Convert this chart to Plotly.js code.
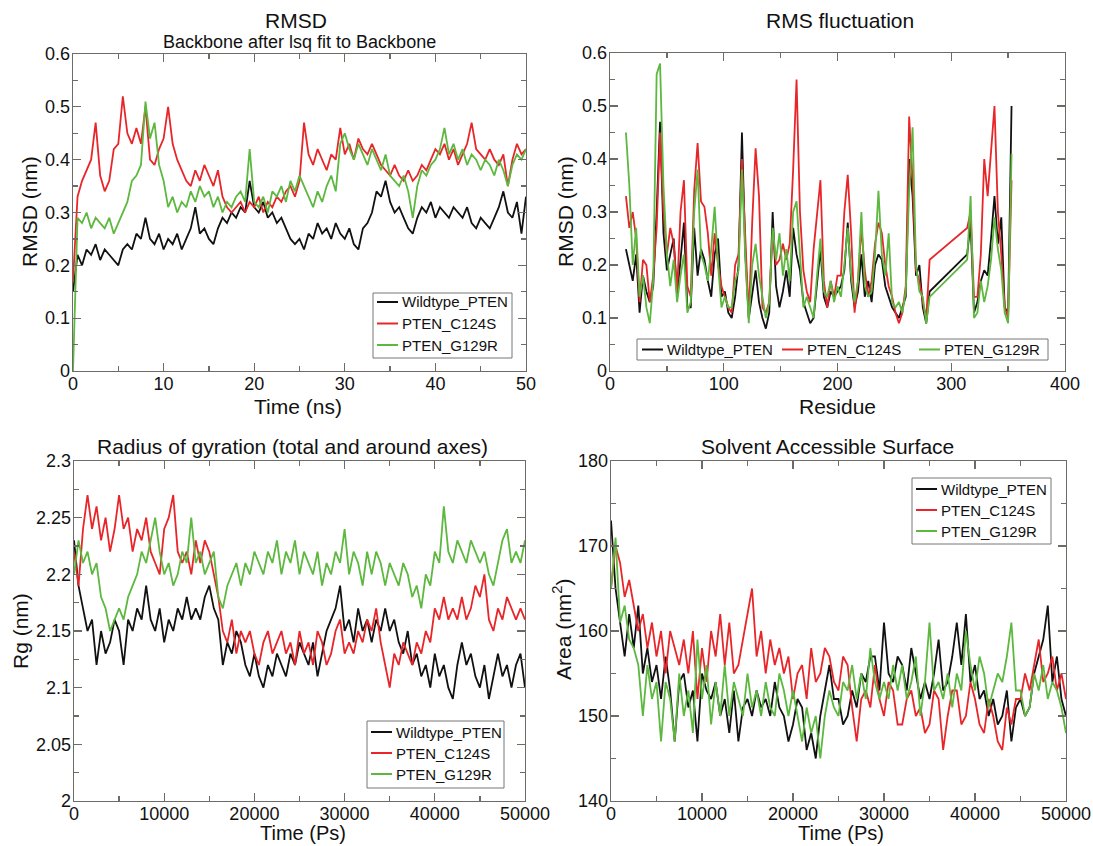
<!DOCTYPE html>
<html>
<head>
<meta charset="utf-8">
<script src="https://cdn.plot.ly/plotly-3.0.1.min.js"></script>
<style>html,body{margin:0;padding:0;background:#fff;}#chart{width:1093px;height:846px;}</style>
</head>
<body>
<div id="chart"></div>
<script>
// ---------------- DATA ----------------
const seriesNames = ["Wildtype_PTEN", "PTEN_C124S", "PTEN_G129R"];

// sampling times (ps)
const timePs = [0,500,1000,1500,2000,2500,3000,3500,4000,4500,
 5000,5500,6000,6500,7000,7500,8000,8500,9000,9500,
 10000,10500,11000,11500,12000,12500,13000,13500,14000,14500,
 15000,15500,16000,16500,17000,17500,18000,18500,19000,19500,
 20000,20500,21000,21500,22000,22500,23000,23500,24000,24500,
 25000,25500,26000,26500,27000,27500,28000,28500,29000,29500,
 30000,30500,31000,31500,32000,32500,33000,33500,34000,34500,
 35000,35500,36000,36500,37000,37500,38000,38500,39000,39500,
 40000,40500,41000,41500,42000,42500,43000,43500,44000,44500,
 45000,45500,46000,46500,47000,47500,48000,48500,49000,49500,
 50000];
const timeNs = timePs.map(t => t / 1000);

// Panel 1: backbone RMSD (nm)
const rmsdWT = [0.15,0.22,0.20,0.23,0.22,0.24,0.21,0.23,0.22,0.21,
 0.20,0.23,0.24,0.23,0.26,0.25,0.29,0.25,0.24,0.26,
 0.23,0.25,0.24,0.26,0.23,0.25,0.27,0.31,0.26,0.27,
 0.25,0.24,0.27,0.29,0.28,0.30,0.29,0.31,0.30,0.36,
 0.31,0.30,0.32,0.29,0.30,0.28,0.29,0.27,0.25,0.24,
 0.25,0.23,0.26,0.25,0.28,0.26,0.27,0.25,0.28,0.26,
 0.25,0.27,0.24,0.23,0.27,0.28,0.30,0.34,0.33,0.36,
 0.32,0.30,0.31,0.29,0.27,0.26,0.29,0.31,0.30,0.32,
 0.29,0.31,0.30,0.29,0.31,0.30,0.29,0.31,0.28,0.27,
 0.29,0.28,0.27,0.29,0.31,0.34,0.30,0.29,0.32,0.26,
 0.33];
const rmsdC124S = [0.17,0.33,0.36,0.38,0.40,0.47,0.37,0.34,0.36,0.42,
 0.43,0.52,0.45,0.43,0.46,0.43,0.50,0.40,0.39,0.42,
 0.44,0.50,0.43,0.40,0.38,0.36,0.35,0.38,0.36,0.39,
 0.37,0.35,0.38,0.33,0.31,0.30,0.31,0.32,0.30,0.32,
 0.31,0.33,0.30,0.32,0.31,0.33,0.32,0.34,0.35,0.33,
 0.36,0.47,0.41,0.39,0.42,0.40,0.38,0.41,0.40,0.46,
 0.41,0.43,0.40,0.44,0.42,0.41,0.43,0.41,0.39,0.38,
 0.37,0.39,0.37,0.36,0.38,0.36,0.37,0.39,0.38,0.40,
 0.42,0.41,0.43,0.40,0.42,0.39,0.41,0.43,0.47,0.42,
 0.41,0.40,0.42,0.40,0.39,0.41,0.35,0.40,0.43,0.41,
 0.42];
const rmsdG129R = [0.00,0.29,0.28,0.30,0.27,0.29,0.28,0.27,0.29,0.26,
 0.28,0.30,0.32,0.36,0.37,0.39,0.51,0.44,0.47,0.39,
 0.36,0.31,0.33,0.30,0.32,0.31,0.34,0.32,0.35,0.33,
 0.34,0.31,0.33,0.30,0.32,0.31,0.33,0.34,0.32,0.42,
 0.32,0.31,0.33,0.30,0.34,0.33,0.35,0.32,0.36,0.34,
 0.37,0.35,0.33,0.31,0.34,0.32,0.35,0.37,0.34,0.43,
 0.45,0.42,0.40,0.43,0.41,0.39,0.42,0.40,0.38,0.41,
 0.37,0.36,0.35,0.37,0.34,0.29,0.35,0.38,0.37,0.39,
 0.40,0.42,0.46,0.41,0.43,0.40,0.42,0.39,0.41,0.40,
 0.38,0.40,0.39,0.37,0.40,0.38,0.35,0.39,0.41,0.40,
 0.42];

// Panel 2: RMS fluctuation per residue (nm)
const residues = [14,17,20,23,26,29,32,35,38,41,
 44,47,50,53,56,59,62,65,68,71,
 74,77,80,83,86,89,92,95,98,101,
 104,107,110,113,116,119,122,125,128,131,
 134,137,140,143,146,149,152,155,158,161,
 164,167,170,173,176,179,182,185,188,191,
 194,197,200,203,206,209,212,215,218,221,
 224,227,230,233,236,239,242,245,248,251,
 254,257,260,263,266,269,272,275,278,281,
 314,317,320,323,326,329,332,335,338,341,
 344,347,350,353];
const rmsfWT = [0.23,0.20,0.17,0.22,0.11,0.18,0.15,0.13,0.16,0.30,
 0.47,0.26,0.19,0.22,0.25,0.14,0.21,0.28,0.12,0.12,
 0.27,0.18,0.23,0.21,0.17,0.14,0.22,0.25,0.14,0.15,
 0.11,0.10,0.14,0.20,0.45,0.22,0.10,0.15,0.19,0.13,
 0.10,0.08,0.11,0.30,0.16,0.12,0.15,0.19,0.14,0.27,
 0.22,0.19,0.13,0.11,0.09,0.10,0.17,0.23,0.14,0.12,
 0.15,0.14,0.15,0.16,0.19,0.28,0.17,0.12,0.15,0.22,
 0.14,0.17,0.13,0.20,0.22,0.21,0.16,0.14,0.12,0.11,
 0.10,0.12,0.14,0.40,0.33,0.18,0.20,0.12,0.09,0.15,
 0.22,0.28,0.11,0.13,0.17,0.19,0.18,0.25,0.33,0.24,
 0.29,0.12,0.11,0.50];
const rmsfC124S = [0.33,0.27,0.30,0.25,0.13,0.21,0.20,0.13,0.18,0.27,
 0.45,0.30,0.22,0.27,0.24,0.15,0.30,0.36,0.16,0.14,
 0.34,0.43,0.32,0.31,0.26,0.18,0.26,0.20,0.16,0.14,
 0.12,0.11,0.20,0.22,0.40,0.25,0.10,0.28,0.42,0.33,
 0.12,0.11,0.13,0.26,0.20,0.21,0.24,0.21,0.24,0.38,
 0.55,0.30,0.19,0.15,0.13,0.23,0.30,0.36,0.17,0.12,
 0.17,0.14,0.18,0.18,0.30,0.37,0.26,0.11,0.17,0.27,
 0.19,0.14,0.17,0.24,0.28,0.26,0.20,0.16,0.14,0.11,
 0.09,0.11,0.16,0.48,0.36,0.19,0.17,0.13,0.10,0.21,
 0.27,0.30,0.14,0.14,0.22,0.40,0.33,0.41,0.50,0.30,
 0.22,0.12,0.10,0.36];
const rmsfG129R = [0.45,0.35,0.20,0.27,0.14,0.18,0.12,0.09,0.17,0.56,
 0.58,0.35,0.22,0.16,0.21,0.13,0.18,0.22,0.11,0.13,
 0.30,0.38,0.22,0.20,0.17,0.23,0.31,0.20,0.12,0.14,
 0.12,0.12,0.17,0.19,0.38,0.21,0.09,0.20,0.24,0.18,
 0.14,0.10,0.13,0.27,0.21,0.26,0.18,0.23,0.17,0.30,
 0.32,0.21,0.12,0.14,0.12,0.10,0.18,0.25,0.15,0.14,
 0.17,0.13,0.16,0.14,0.20,0.27,0.18,0.13,0.17,0.30,
 0.16,0.14,0.15,0.22,0.34,0.22,0.18,0.26,0.13,0.12,
 0.13,0.11,0.15,0.34,0.46,0.20,0.15,0.14,0.09,0.14,
 0.21,0.33,0.10,0.11,0.17,0.13,0.16,0.21,0.29,0.23,
 0.19,0.11,0.09,0.41];

// Panel 3: radius of gyration (nm)
const rgWT = [2.23,2.19,2.17,2.15,2.16,2.12,2.15,2.13,2.14,2.16,
 2.15,2.12,2.16,2.15,2.17,2.16,2.19,2.16,2.15,2.17,
 2.14,2.16,2.15,2.17,2.16,2.18,2.16,2.17,2.16,2.18,
 2.19,2.17,2.16,2.12,2.14,2.13,2.15,2.14,2.12,2.11,
 2.13,2.11,2.10,2.12,2.11,2.13,2.12,2.11,2.13,2.12,
 2.14,2.13,2.12,2.14,2.11,2.13,2.15,2.16,2.17,2.19,
 2.15,2.16,2.14,2.17,2.15,2.16,2.14,2.16,2.15,2.17,
 2.15,2.16,2.14,2.13,2.15,2.12,2.13,2.11,2.12,2.10,
 2.13,2.11,2.12,2.10,2.09,2.12,2.14,2.12,2.13,2.11,
 2.10,2.12,2.09,2.11,2.13,2.11,2.12,2.10,2.12,2.13,
 2.10];
const rgC124S = [2.22,2.19,2.24,2.27,2.24,2.26,2.23,2.25,2.22,2.24,
 2.27,2.24,2.25,2.22,2.24,2.23,2.25,2.22,2.21,2.20,
 2.24,2.25,2.27,2.22,2.21,2.22,2.20,2.23,2.21,2.23,
 2.22,2.20,2.18,2.15,2.14,2.16,2.13,2.15,2.14,2.15,
 2.13,2.12,2.14,2.15,2.13,2.14,2.15,2.13,2.14,2.12,
 2.15,2.13,2.14,2.12,2.15,2.14,2.12,2.13,2.15,2.16,
 2.13,2.14,2.13,2.15,2.14,2.16,2.15,2.17,2.14,2.12,
 2.10,2.13,2.12,2.14,2.13,2.12,2.14,2.13,2.15,2.14,
 2.17,2.16,2.18,2.16,2.17,2.16,2.18,2.16,2.17,2.19,
 2.18,2.20,2.16,2.15,2.17,2.16,2.18,2.17,2.16,2.17,
 2.16];
const rgG129R = [2.20,2.23,2.21,2.22,2.20,2.21,2.18,2.17,2.15,2.16,
 2.17,2.16,2.18,2.19,2.20,2.22,2.21,2.23,2.25,2.22,
 2.20,2.21,2.19,2.20,2.22,2.21,2.25,2.21,2.22,2.20,
 2.21,2.22,2.18,2.17,2.19,2.20,2.21,2.19,2.21,2.20,
 2.22,2.21,2.20,2.22,2.21,2.23,2.20,2.22,2.21,2.23,
 2.20,2.22,2.21,2.20,2.22,2.19,2.21,2.20,2.22,2.21,
 2.24,2.20,2.22,2.21,2.19,2.22,2.20,2.22,2.21,2.19,
 2.21,2.20,2.19,2.21,2.20,2.18,2.19,2.17,2.20,2.19,
 2.22,2.21,2.26,2.22,2.21,2.23,2.22,2.21,2.23,2.22,
 2.21,2.22,2.20,2.19,2.21,2.23,2.24,2.21,2.22,2.21,
 2.23];

// Panel 4: solvent accessible surface area (nm^2)
const sasaWT = [173,165,161,157,162,158,163,155,158,154,
 156,152,157,153,147,154,155,151,153,147,
 155,153,152,154,150,152,148,153,147,151,
 152,150,153,151,152,150,154,151,150,147,
 149,152,151,146,148,145,150,153,156,152,
 152,149,150,153,151,155,154,157,157,153,
 161,155,154,157,156,153,158,155,152,154,
 152,155,159,153,154,157,161,156,162,154,
 156,152,153,150,152,149,150,153,147,151,
 152,150,151,155,157,159,163,154,157,152,
 150];
const sasaC124S = [165,170,168,164,166,163,160,162,158,161,
 157,160,155,160,158,156,159,155,160,152,
 158,154,160,157,162,156,161,155,156,159,
 162,165,157,160,155,159,156,158,155,157,
 152,155,156,152,158,154,155,158,157,154,
 153,157,156,151,147,152,153,151,156,152,
 150,154,153,149,149,152,153,150,151,148,
 149,153,152,146,150,153,153,149,150,154,
 152,149,148,152,150,147,146,151,149,152,
 152,155,153,156,159,154,155,157,153,155,
 152];
const sasaG129R = [165,171,161,163,159,158,156,150,156,152,
 154,147,154,152,147,155,150,153,148,159,
 152,156,149,154,150,156,150,154,152,150,
 155,151,153,150,154,151,150,155,153,150,
 153,150,147,151,148,150,145,150,153,151,
 150,154,153,156,152,155,152,158,154,152,
 154,152,156,153,156,152,154,157,150,154,
 161,153,154,152,155,151,155,153,160,156,
 153,157,155,151,153,155,154,157,161,153,
 153,150,151,155,153,156,152,154,153,151,
 148];

// ---------------- STYLE ----------------
const FONT = "Liberation Sans, Arial, Helvetica, sans-serif";
const COLORS = ["#111111", "#e8262a", "#5cb83e"];
const AXC = "#6e6a66";
const W = 1093, H = 846;
const px = v => v / W;
const py = v => 1 - v / H;

function makeAxis(d0, d1, range, dtick, minorDtick, anchor, isX, fmt) {
  const a = {
    domain: [d0, d1], range: range, tick0: range[0], dtick: dtick,
    anchor: anchor, showline: true, linecolor: AXC, linewidth: 1.3,
    mirror: "ticks", ticks: "inside", ticklen: 8, tickwidth: 1.3, tickcolor: AXC,
    minor: {ticks: "inside", ticklen: 5, dtick: minorDtick, tickwidth: 1.3, tickcolor: AXC, showgrid: false},
    showgrid: false, zeroline: false, fixedrange: true,
    exponentformat: "none", separatethousands: false,
    ticklabeloverflow: "allow",
    ticklabelstandoff: isX ? -4 : -2,
    tickfont: {family: FONT, size: 18, color: "#111"}
  };
  if (fmt) a.tickformat = fmt;
  return a;
}

const panels = [
  {x: timeNs, ys: [rmsdWT, rmsdC124S, rmsdG129R], xa: "x", ya: "y"},
  {x: residues, ys: [rmsfWT, rmsfC124S, rmsfG129R], xa: "x2", ya: "y2"},
  {x: timePs, ys: [rgWT, rgC124S, rgG129R], xa: "x3", ya: "y3"},
  {x: timePs, ys: [sasaWT, sasaC124S, sasaG129R], xa: "x4", ya: "y4"}
];

const traces = [];
panels.forEach(p => {
  p.ys.forEach((y, i) => {
    traces.push({
      type: "scatter", mode: "lines", x: p.x, y: y, name: seriesNames[i],
      xaxis: p.xa, yaxis: p.ya, showlegend: false,
      line: {color: COLORS[i], width: 1.8}, hoverinfo: "skip"
    });
  });
});

function ann(text, x, y, size, extra) {
  return Object.assign({text: text, xref: "paper", yref: "paper", x: px(x), y: py(y),
    xanchor: "center", yanchor: "middle", showarrow: false,
    font: {family: FONT, size: size, color: "#111"}}, extra || {});
}

// legend boxes drawn as shapes + text annotations (pixel positions of the boxes)
const shapes = [];
const annotations = [
  ann("RMSD", 296, 21, 21),
  ann("Backbone after lsq fit to Backbone", 299, 42, 18),
  ann("RMS fluctuation", 840, 21, 21),
  ann("Radius of gyration (total and around axes)", 292, 446, 21),
  ann("Solvent Accessible Surface", 827, 446, 21),
  ann("Time (ns)", 298, 406, 21),
  ann("Residue", 837, 406, 21),
  ann("Time (Ps)", 303, 833, 20),
  ann("Time (Ps)", 841, 833, 20),
  ann("RMSD (nm)", 30, 212, 21, {textangle: -90}),
  ann("RMSD (nm)", 566, 212, 21, {textangle: -90}),
  ann("Rg (nm)", 20, 631, 21, {textangle: -90}),
  ann("Area (nm<sup>2</sup>)", 562, 629, 21, {textangle: -90})
];
function legendBox(x0, x1, y0, y1) {
  shapes.push({type: "rect", xref: "paper", yref: "paper", x0: px(x0), x1: px(x1), y0: py(y1), y1: py(y0),
    line: {color: "#777", width: 1}, fillcolor: "#fff", layer: "above"});
}
function legendEntry(i, lx, ty) {
  shapes.push({type: "line", xref: "paper", yref: "paper", x0: px(lx), x1: px(lx + 21), y0: py(ty), y1: py(ty),
    line: {color: COLORS[i], width: 2}, layer: "above"});
  annotations.push({text: seriesNames[i], xref: "paper", yref: "paper", x: px(lx + 23), y: py(ty),
    xanchor: "left", yanchor: "middle", showarrow: false,
    font: {family: FONT, size: 15, color: "#111"}});
}
// panel 1
legendBox(373, 512, 293, 358);
[302, 323.5, 345].forEach((y, i) => legendEntry(i, 377, y));
// panel 2 (horizontal)
legendBox(637, 1048, 339, 360);
[642, 782, 919].forEach((x, i) => legendEntry(i, x, 349.5));
// panel 3
legendBox(367, 504, 721, 788);
[732, 753, 774].forEach((y, i) => legendEntry(i, 371, y));
// panel 4
legendBox(912, 1051, 478, 544);
[489, 510, 531].forEach((y, i) => legendEntry(i, 916, y));

const layout = {
  width: W, height: H, margin: {l: 0, r: 0, t: 0, b: 0},
  paper_bgcolor: "#fff", plot_bgcolor: "#fff", showlegend: false,
  separators: ". ",
  xaxis: makeAxis(px(73), px(526), [0, 50], 10, 5, "y", true),
  yaxis: makeAxis(py(371), py(54), [0, 0.6], 0.1, 0.05, "x", false),
  xaxis2: makeAxis(px(610), px(1065), [0, 400], 100, 50, "y2", true),
  yaxis2: makeAxis(py(371), py(53), [0, 0.6], 0.1, 0.05, "x2", false),
  xaxis3: makeAxis(px(74), px(525), [0, 50000], 10000, 5000, "y3", true, "d"),
  yaxis3: makeAxis(py(801), py(461), [2, 2.3], 0.05, 0.025, "x3", false),
  xaxis4: makeAxis(px(611), px(1066), [0, 50000], 10000, 5000, "y4", true, "d"),
  yaxis4: makeAxis(py(801), py(461), [140, 180], 10, 5, "x4", false),
  shapes: shapes,
  annotations: annotations
};

Plotly.newPlot("chart", traces, layout, {displayModeBar: false, staticPlot: true});
</script>
</body>
</html>
